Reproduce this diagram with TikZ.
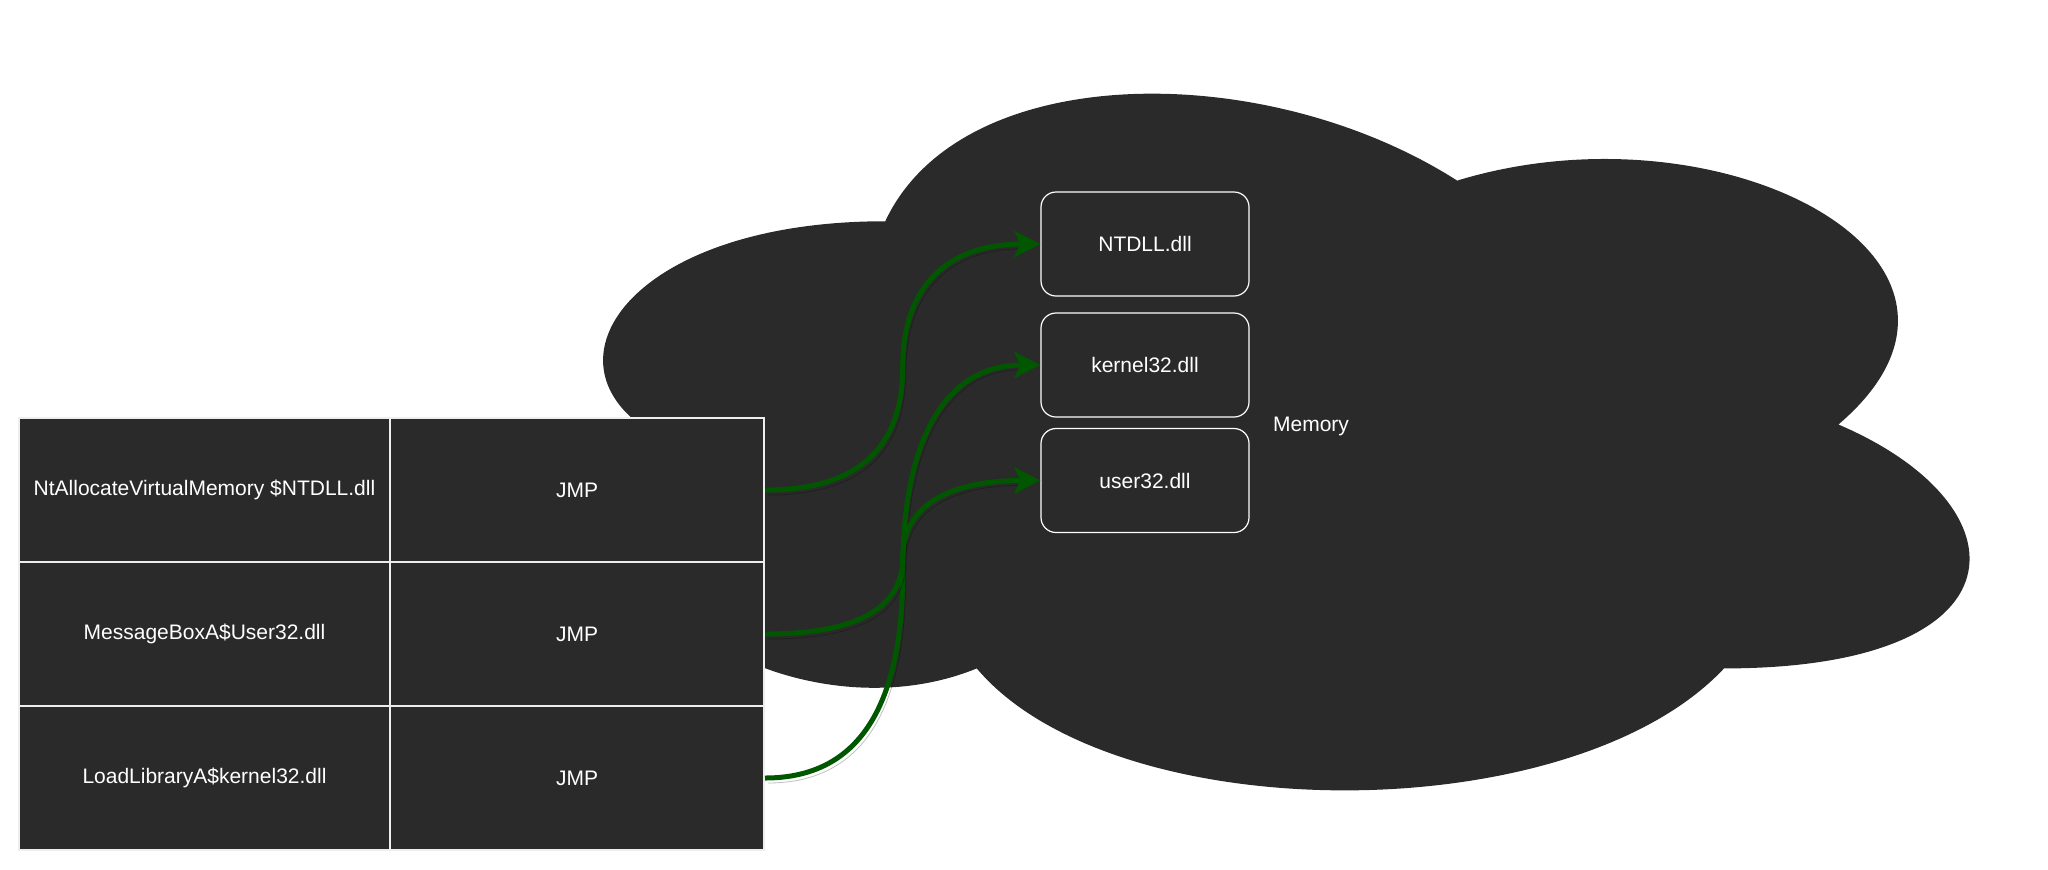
\documentclass[tikz,border=0pt]{standalone}
\usepackage{fontspec}
\setmainfont{Liberation Sans}
\usetikzlibrary{calc,arrows.meta}
\definecolor{cloudfill}{HTML}{2A2A2A}
\definecolor{cellline}{HTML}{EEEEEE}
\definecolor{edgegreen}{RGB}{0,87,0}
\tikzset{
  cell/.style={rectangle, draw=cellline, line width=1pt, fill=cloudfill, text=white,
    minimum height=72pt, font=\fontsize{10.5pt}{12pt}\selectfont, inner sep=0pt},
  leftcell/.style={cell, minimum width=185.5pt},
  rightcell/.style={cell, minimum width=187pt},
  dllbox/.style={rectangle, rounded corners=7.5pt, draw=white, line width=0.6pt,
    fill=cloudfill, text=white, minimum width=104pt, minimum height=52pt,
    font=\fontsize{10.5pt}{12pt}\selectfont},
  lbl/.style={text=white, font=\fontsize{10.5pt}{12pt}\selectfont},
  jump/.style={draw=edgegreen, line width=2.5pt,
    -{Stealth[length=13pt,width=13pt,inset=3pt]},
    preaction={draw=black, opacity=0.25, -, shorten >=12pt,
      transform canvas={shift={(1.5pt,-2.5pt)}}}}
}
\begin{document}
\begin{tikzpicture}[x=0.5pt,y=-0.5pt]
\useasboundingbox (0,0) rectangle (2048,869);
% cloud
\begin{scope}[shift={(252pt,-9pt)}, x=762.5pt, y=-406.5pt]
\fill[cloudfill] (0.25,0.25) .. controls (0.05,0.25) and (0,0.5) .. (0.16,0.55)
  .. controls (0,0.66) and (0.18,0.9) .. (0.31,0.8)
  .. controls (0.4,1) and (0.7,1) .. (0.8,0.8)
  .. controls (1,0.8) and (1,0.6) .. (0.875,0.5)
  .. controls (1,0.3) and (0.8,0.1) .. (0.625,0.2)
  .. controls (0.5,0.05) and (0.3,0.05) .. (0.25,0.25) -- cycle;
\end{scope}
\node[lbl] (mem) at (1311,426) {Memory};
% dll boxes
\node[dllbox] (ntdll) at (1145,244) {NTDLL.dll};
\node[dllbox] (k32) at (1145,365) {kernel32.dll};
\node[dllbox] (u32) at (1145,480.5) {user32.dll};
% table
\node[leftcell] (f1) at (204.5,490) {NtAllocateVirtualMemory \$NTDLL.dll};
\node[rightcell] (j1) at (577,490) {JMP};
\node[leftcell] (f2) at (204.5,634) {MessageBoxA\$User32.dll};
\node[rightcell] (j2) at (577,634) {JMP};
\node[leftcell] (f3) at (204.5,778) {LoadLibraryA\$kernel32.dll};
\node[rightcell] (j3) at (577,778) {JMP};
% edges: quadratic curves through orthogonal corners
\foreach \s/\t in {j1/ntdll, j3/k32, j2/u32}{
  \coordinate (S) at (\s.east);
  \coordinate (E) at (\t.west);
  \coordinate (MX) at ($(S)!0.5!(E)$);
  \coordinate (C1) at (S -| MX);
  \coordinate (C2) at (E -| MX);
  \coordinate (M) at ($(C1)!0.5!(C2)$);
  \draw[jump] (S) .. controls ($(S)!0.6667!(C1)$) and ($(M)!0.6667!(C1)$) .. (M)
    .. controls ($(M)!0.6667!(C2)$) and ($(E)!0.6667!(C2)$) .. (E);
}
\end{tikzpicture}
\end{document}
